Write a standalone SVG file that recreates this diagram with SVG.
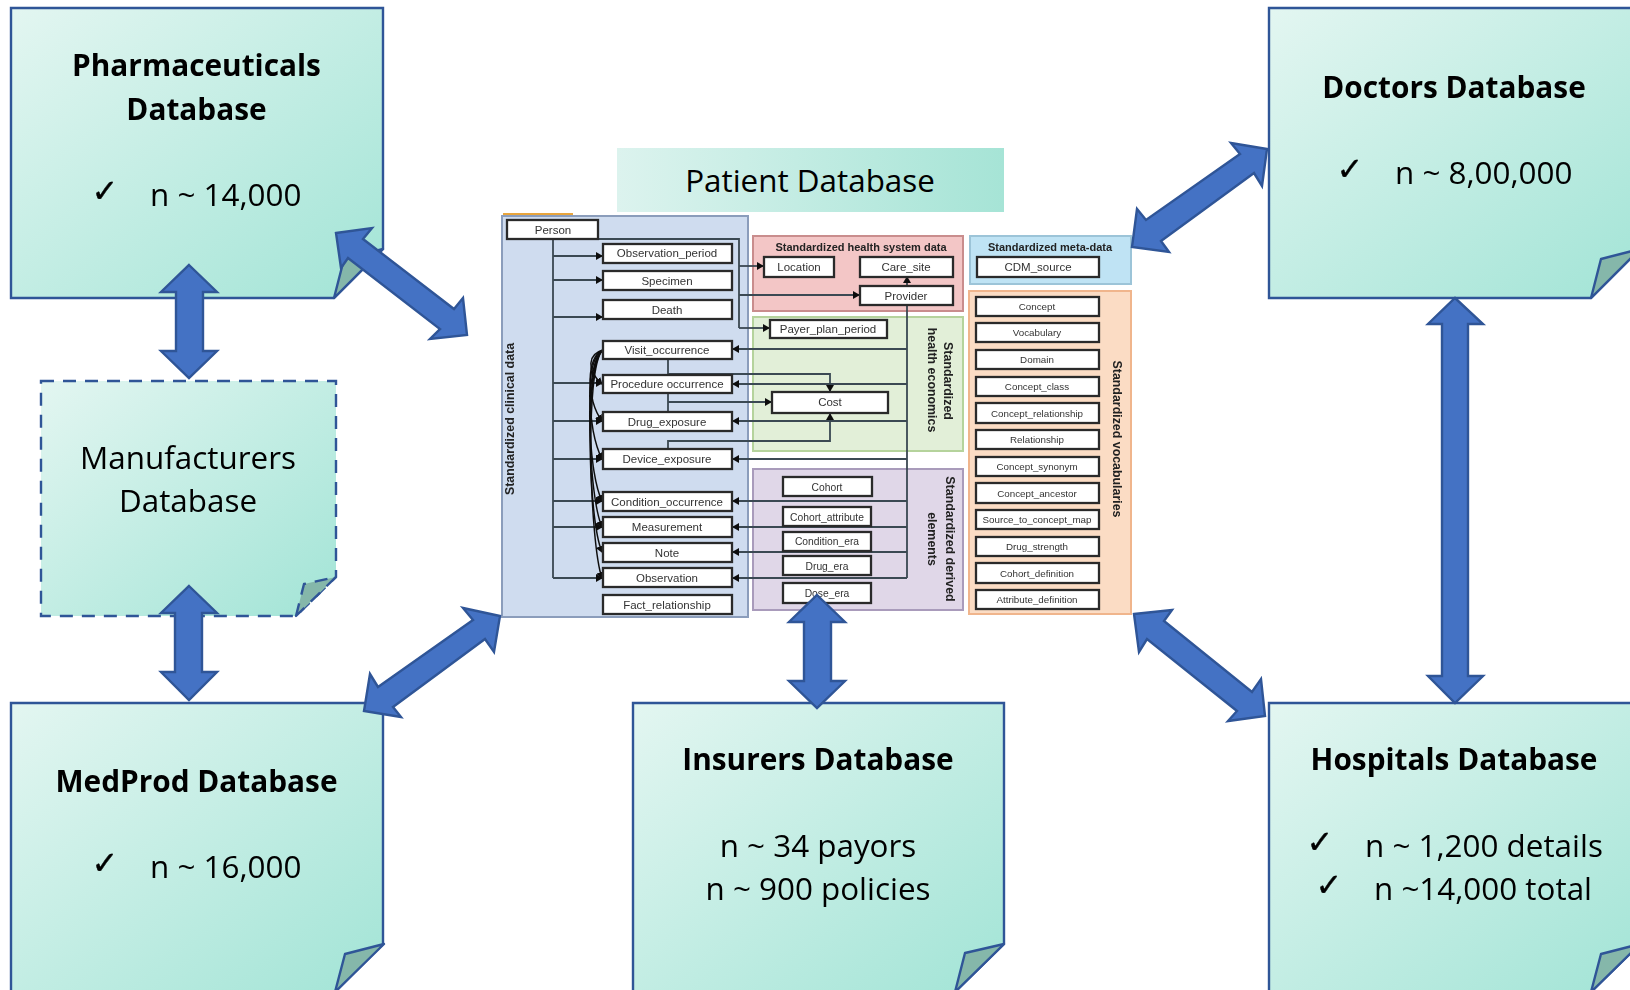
<svg xmlns="http://www.w3.org/2000/svg" width="1630" height="990" viewBox="0 0 1630 990">
<style>
.note{stroke:#2f5597;stroke-width:2.4;fill:url(#g)}
.dash{stroke-dasharray:13 9}
.fold{fill:#85b7aa;stroke:#2f5597;stroke-width:2.4;stroke-linejoin:round}
.t{font-family:"Open Sans","Noto Sans",sans-serif;font-size:31.4px;fill:#000}
.b{font-weight:700;font-size:29.8px}
.m{text-anchor:middle}
.ck{font-family:"DejaVu Sans",sans-serif;font-size:32px;fill:#000;stroke:#000;stroke-width:.4;text-anchor:middle}
.dbl{fill:#4472c4;stroke:#2f5597;stroke-width:2.4;stroke-linejoin:miter}
.box{fill:#fff;stroke:#2b2b2b;stroke-width:2.3}
.s{font-family:"Liberation Sans",sans-serif;font-size:11.5px;fill:#333;text-anchor:middle}
.s1{font-size:10.3px}
.s2{font-size:9.8px}
.h{font-family:"Liberation Sans",sans-serif;font-size:11px;font-weight:700;fill:#222;text-anchor:middle}
.v{font-size:12.4px}
.ln{fill:none;stroke:#3a4852;stroke-width:1.8}
.cv{fill:none;stroke:#111;stroke-width:1.5}
</style>
<defs>
<linearGradient id="g" x1="0" y1="0" x2="1" y2="1"><stop offset="0" stop-color="#e3f6f1"/><stop offset="1" stop-color="#a2e4d6"/></linearGradient>
<linearGradient id="gh" x1="0" y1="0" x2="1" y2="0"><stop offset="0" stop-color="#dcf3ee"/><stop offset="1" stop-color="#a6e4d6"/></linearGradient>
<filter id="soft" x="-2%" y="-2%" width="104%" height="104%"><feGaussianBlur stdDeviation="0.5"/></filter>
<marker id="a" markerWidth="7" markerHeight="8" refX="6" refY="4" orient="auto" markerUnits="userSpaceOnUse"><path d="M0 0L7 4L0 8Z" fill="#111"/></marker>
</defs>

<g id="patient-title">
<rect x="617" y="148" width="387" height="64" fill="url(#gh)"/>
<text class="t m" x="810" y="192">Patient Database</text>
</g>

<g id="patient-schema" filter="url(#soft)">
<rect x="503" y="213" width="70" height="4" fill="#e8a53c"/>
<g id="panels">
<rect x="502" y="216" width="246" height="401" fill="#cfdcef" stroke="#8b9dbb" stroke-width="2"/>
<rect x="753" y="236" width="210" height="75" fill="#f3c6c6" stroke="#c98d8d" stroke-width="2"/>
<rect x="753" y="317" width="210" height="134" fill="#e2efd8" stroke="#b5d39c" stroke-width="2"/>
<rect x="753" y="469" width="210" height="141" fill="#e0d7e8" stroke="#a99bbb" stroke-width="2"/>
<rect x="970" y="236" width="161" height="48" fill="#bfe3f4" stroke="#9cc4d8" stroke-width="2"/>
<rect x="969" y="291" width="162" height="323" fill="#fbdcc4" stroke="#f0b58c" stroke-width="2"/>
<text class="h v" transform="translate(514 419) rotate(-90)">Standardized clinical data</text>
<text class="h" x="861" y="251">Standardized health system data</text>
<text class="h" x="1050" y="251">Standardized meta-data</text>
<text class="h v" transform="translate(944 381) rotate(90)">Standardized</text>
<text class="h v" transform="translate(928 380) rotate(90)">health economics</text>
<text class="h v" transform="translate(946 539) rotate(90)">Standardized derived</text>
<text class="h v" transform="translate(928 539) rotate(90)">elements</text>
<text class="h v" transform="translate(1113 439) rotate(90)">Standardized vocabularies</text>
</g>
<g id="schema-lines">
<path class="ln" d="M553 239V578"/>
<path class="ln" marker-end="url(#a)" d="M553 256H602"/>
<path class="ln" marker-end="url(#a)" d="M553 280H602"/>
<path class="ln" marker-end="url(#a)" d="M553 317H602"/>
<path class="ln" marker-end="url(#a)" d="M553 383H602"/>
<path class="ln" marker-end="url(#a)" d="M553 421H602"/>
<path class="ln" marker-end="url(#a)" d="M553 459H602"/>
<path class="ln" marker-end="url(#a)" d="M553 501H602"/>
<path class="ln" marker-end="url(#a)" d="M553 527H602"/>
<path class="ln" marker-end="url(#a)" d="M553 578H602"/>
<path class="ln" d="M598 239H739V328" stroke-width="2.2"/>
<path class="ln" marker-end="url(#a)" d="M739 328H769"/>
<path class="ln" marker-end="url(#a)" d="M739 266H763"/>
<path class="ln" marker-end="url(#a)" d="M739 295H859"/>
<path class="ln" marker-end="url(#a)" d="M907 286V277"/>
<path class="ln" d="M907 305V578"/>
<path class="ln" marker-end="url(#a)" d="M907 349H733"/>
<path class="ln" marker-end="url(#a)" d="M907 384H733"/>
<path class="ln" marker-end="url(#a)" d="M907 421H733"/>
<path class="ln" marker-end="url(#a)" d="M907 459H733"/>
<path class="ln" marker-end="url(#a)" d="M907 501H733"/>
<path class="ln" marker-end="url(#a)" d="M907 527H733"/>
<path class="ln" marker-end="url(#a)" d="M907 552H733"/>
<path class="ln" marker-end="url(#a)" d="M907 578H733"/>
<path class="ln" marker-end="url(#a)" d="M668 359V374H830V391"/>
<path class="ln" d="M668 393V412"/>
<path class="ln" marker-end="url(#a)" d="M668 402H771"/>
<path class="ln" marker-end="url(#a)" d="M668 449V441H830V414"/>
<path class="cv" marker-end="url(#a)" d="M603 350C588 354 586 370 602 384"/>
<path class="cv" marker-end="url(#a)" d="M603 350C586 356 586 400 602 421"/>
<path class="cv" marker-end="url(#a)" d="M603 350C584 358 587 430 602 459"/>
<path class="cv" marker-end="url(#a)" d="M603 350C584 360 587 470 602 501"/>
<path class="cv" marker-end="url(#a)" d="M603 350C584 362 588 495 602 527"/>
<path class="cv" marker-end="url(#a)" d="M603 350C584 364 588 520 602 552"/>
<path class="cv" marker-end="url(#a)" d="M603 350C584 366 590 545 602 578"/>
</g>
<g id="Person"><rect class="box" x="507" y="220" width="91" height="19"/><text class="s" x="553" y="234">Person</text></g>
<g id="Observation_period"><rect class="box" x="603" y="244" width="129" height="19"/><text class="s" x="667" y="257">Observation_period</text></g>
<g id="Specimen"><rect class="box" x="603" y="271" width="129" height="19"/><text class="s" x="667" y="285">Specimen</text></g>
<g id="Death"><rect class="box" x="603" y="300" width="129" height="19"/><text class="s" x="667" y="314">Death</text></g>
<g id="Visit_occurrence"><rect class="box" x="603" y="341" width="129" height="18"/><text class="s" x="667" y="354">Visit_occurrence</text></g>
<g id="Procedure_occurrence"><rect class="box" x="603" y="375" width="129" height="18"/><text class="s" x="667" y="388">Procedure occurrence</text></g>
<g id="Drug_exposure"><rect class="box" x="603" y="412" width="129" height="19"/><text class="s" x="667" y="426">Drug_exposure</text></g>
<g id="Device_exposure"><rect class="box" x="603" y="449" width="129" height="20"/><text class="s" x="667" y="463">Device_exposure</text></g>
<g id="Condition_occurrence"><rect class="box" x="603" y="492" width="129" height="19"/><text class="s" x="667" y="506">Condition_occurrence</text></g>
<g id="Measurement"><rect class="box" x="603" y="517" width="129" height="20"/><text class="s" x="667" y="531">Measurement</text></g>
<g id="Note"><rect class="box" x="603" y="543" width="129" height="19"/><text class="s" x="667" y="557">Note</text></g>
<g id="Observation"><rect class="box" x="603" y="568" width="129" height="19"/><text class="s" x="667" y="582">Observation</text></g>
<g id="Fact_relationship"><rect class="box" x="603" y="595" width="129" height="19"/><text class="s" x="667" y="609">Fact_relationship</text></g>
<g id="Location"><rect class="box" x="764" y="257" width="70" height="20"/><text class="s" x="799" y="271">Location</text></g>
<g id="Care_site"><rect class="box" x="860" y="257" width="93" height="20"/><text class="s" x="906" y="271">Care_site</text></g>
<g id="Provider"><rect class="box" x="860" y="286" width="93" height="19"/><text class="s" x="906" y="300">Provider</text></g>
<g id="Payer_plan_period"><rect class="box" x="770" y="320" width="117" height="18"/><text class="s" x="828" y="333">Payer_plan_period</text></g>
<g id="Cost"><rect class="box" x="772" y="392" width="116" height="21"/><text class="s" x="830" y="406">Cost</text></g>
<g id="Cohort"><rect class="box" x="783" y="477" width="89" height="19"/><text class="s s1" x="827" y="491">Cohort</text></g>
<g id="Cohort_attribute"><rect class="box" x="783" y="507" width="88" height="19"/><text class="s s1" x="827" y="521">Cohort_attribute</text></g>
<g id="Condition_era"><rect class="box" x="783" y="532" width="88" height="19"/><text class="s s1" x="827" y="545">Condition_era</text></g>
<g id="Drug_era"><rect class="box" x="783" y="556" width="88" height="19"/><text class="s s1" x="827" y="570">Drug_era</text></g>
<g id="Dose_era"><rect class="box" x="783" y="583" width="88" height="20"/><text class="s s1" x="827" y="597">Dose_era</text></g>
<g id="CDM_source"><rect class="box" x="977" y="257" width="122" height="20"/><text class="s" x="1038" y="271">CDM_source</text></g>
<g id="Concept"><rect class="box" x="976" y="297" width="123" height="19"/><text class="s s2" x="1037" y="310">Concept</text></g>
<g id="Vocabulary"><rect class="box" x="976" y="323" width="123" height="19"/><text class="s s2" x="1037" y="336">Vocabulary</text></g>
<g id="Domain"><rect class="box" x="976" y="350" width="123" height="19"/><text class="s s2" x="1037" y="363">Domain</text></g>
<g id="Concept_class"><rect class="box" x="976" y="377" width="123" height="19"/><text class="s s2" x="1037" y="390">Concept_class</text></g>
<g id="Concept_relationship"><rect class="box" x="976" y="403" width="123" height="20"/><text class="s s2" x="1037" y="417">Concept_relationship</text></g>
<g id="Relationship"><rect class="box" x="976" y="430" width="123" height="19"/><text class="s s2" x="1037" y="443">Relationship</text></g>
<g id="Concept_synonym"><rect class="box" x="976" y="457" width="123" height="19"/><text class="s s2" x="1037" y="470">Concept_synonym</text></g>
<g id="Concept_ancestor"><rect class="box" x="976" y="483" width="123" height="20"/><text class="s s2" x="1037" y="497">Concept_ancestor</text></g>
<g id="Source_to_concept_map"><rect class="box" x="976" y="510" width="123" height="19"/><text class="s s2" x="1037" y="523">Source_to_concept_map</text></g>
<g id="Drug_strength"><rect class="box" x="976" y="537" width="123" height="19"/><text class="s s2" x="1037" y="550">Drug_strength</text></g>
<g id="Cohort_definition"><rect class="box" x="976" y="563" width="123" height="20"/><text class="s s2" x="1037" y="577">Cohort_definition</text></g>
<g id="Attribute_definition"><rect class="box" x="976" y="590" width="123" height="19"/><text class="s s2" x="1037" y="603">Attribute_definition</text></g>
</g>

<g id="pharmaceuticals">
<path class="note" d="M11 8H383V249L334 298H11Z"/><path class="fold" d="M334 298L344 259L383 249Z"/>
<text class="t b m" x="196.500" y="76">Pharmaceuticals</text><text class="t b m" x="196.500" y="120">Database</text>
<text class="ck" x="105" y="202">✓</text><text class="t" x="150" y="206">n ~ 14,000</text>
</g>
<g id="manufacturers">
<path class="note dash" d="M41 381H336V577L296 616H41Z"/><path class="fold dash" d="M296 616L304 584L336 577Z"/>
<text class="t m" x="188" y="469">Manufacturers</text><text class="t m" x="188" y="512">Database</text>
</g>
<g id="medprod">
<path class="note" d="M11 703H383V944L335 992H11Z"/><path class="fold" d="M335 992L345 954L384 944Z"/>
<text class="t b m" x="196.500" y="792">MedProd Database</text>
<text class="ck" x="105" y="874">✓</text><text class="t" x="150" y="878">n ~ 16,000</text>
</g>
<g id="insurers">
<path class="note" d="M633 703H1004V944L955 992H633Z"/><path class="fold" d="M955 992L965 953L1004 944Z"/>
<text class="t b m" x="818" y="770">Insurers Database</text>
<text class="t m" x="818" y="857">n ~ 34 payors</text><text class="t m" x="818" y="900">n ~ 900 policies</text>
</g>
<g id="doctors">
<path class="note" d="M1269 8H1640V249L1591 298H1269Z"/><path class="fold" d="M1591 298L1601 259L1640 249Z"/>
<text class="t b m" x="1454" y="98">Doctors Database</text>
<text class="ck" x="1350" y="180">✓</text><text class="t" x="1395" y="184">n ~ 8,00,000</text>
</g>
<g id="hospitals">
<path class="note" d="M1269 703H1640V944L1591 992H1269Z"/><path class="fold" d="M1591 992L1601 954L1640 944Z"/>
<text class="t b m" x="1454" y="770">Hospitals Database</text>
<text class="ck" x="1320" y="853">✓</text><text class="t" x="1365" y="857">n ~ 1,200 details</text>
<text class="ck" x="1329" y="896">✓</text><text class="t" x="1374" y="900">n ~14,000 total</text>
</g>

<g id="connectors">
<polygon class="dbl" points="189,265 217,292 203,292 203,351 217,351 189,378 161,351 176,351 176,292 161,292"/>
<polygon class="dbl" points="189,586 217,613 202,613 202,672 217,672 189,700 161,672 175,672 175,613 161,613"/>
<polygon class="dbl" points="817,595 845,622 831,622 831,681 845,681 817,708 789,681 804,681 804,622 789,622"/>
<polygon class="dbl" points="1455,298 1483,324 1468,324 1468,676 1483,676 1455,703 1428,676 1442,676 1442,324 1428,324"/>
<polygon class="dbl" points="336,233 372,228 363,239 454,309 463,298 467,335 430,339 440,329 348,258 341,268"/>
<polygon class="dbl" points="364,711 370,674 378,687 473,620 463,608 500,616 494,652 485,639 393,707 401,717"/>
<polygon class="dbl" points="1267,149 1231,143 1240,154 1146,220 1137,209 1132,247 1169,252 1161,241 1254,173 1262,186"/>
<polygon class="dbl" points="1134,614 1172,610 1164,621 1252,692 1261,679 1265,716 1228,721 1237,711 1147,639 1139,652"/>
</g>
</svg>
